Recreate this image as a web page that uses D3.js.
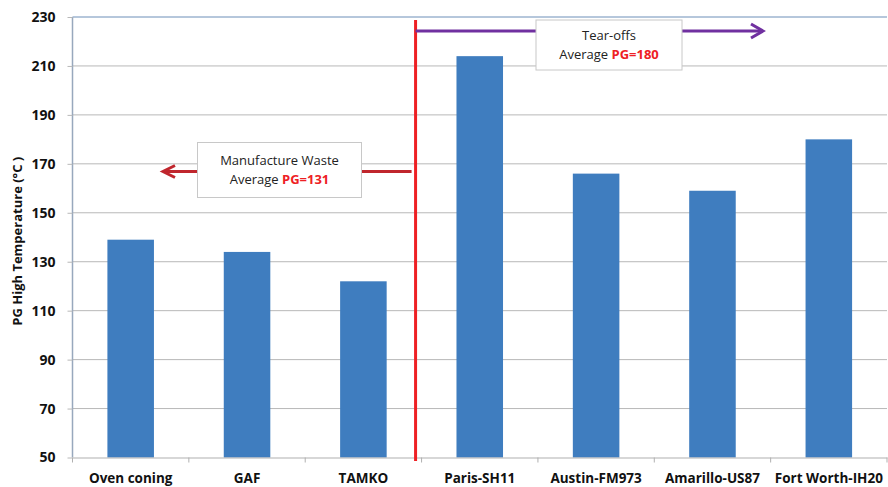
<!DOCTYPE html>
<html><head><meta charset="utf-8">
<script src="https://cdn.jsdelivr.net/npm/d3@7"></script>
<style>body{margin:0;background:#fff;}svg{display:block;font-family:"Open Sans","Liberation Sans",sans-serif;}</style>
</head><body><svg id="c" width="888" height="487"></svg>
<script>
const categories = ["Oven coning","GAF","TAMKO","Paris-SH11","Austin-FM973","Amarillo-US87","Fort Worth-IH20"];
const values = [139,134,122,214,166,159,180];
const yTicks = [50,70,90,110,130,150,170,190,210,230];
const yTitle = "PG High Temperature (\u00B0C )";
const mfgLabel = ["Manufacture Waste","Average ","PG=131"];
const tearLabel = ["Tear-offs","Average ","PG=180"];

const svg = d3.select("#c");
const L=72.5, R=887, T=17, B=457.5;
const x = d3.scaleBand().domain(categories).range([L,R]).paddingInner(0.6).paddingOuter(0.3);
const xb = d3.scaleBand().domain(categories).range([L,R]);
const y = d3.scaleLinear().domain([50,230]).range([B,T]);

// gridlines
svg.append("g").selectAll("line").data(yTicks.slice(1,-1)).join("line")
  .attr("x1",L).attr("x2",R).attr("y1",d=>y(d)).attr("y2",d=>y(d))
  .attr("stroke","#b8b8b8").attr("stroke-width",1);
svg.append("line").attr("x1",L).attr("x2",R).attr("y1",y(230)).attr("y2",y(230)).attr("stroke","#6d8fb8").attr("stroke-width",1);

// bars
svg.append("g").selectAll("rect").data(values).join("rect")
  .attr("x",(d,i)=>x(categories[i])).attr("width",x.bandwidth())
  .attr("y",d=>y(d)).attr("height",d=>B-y(d)).attr("fill","#3f7dbf");

// y axis
const ya = svg.append("g").attr("transform",`translate(${L},0)`)
  .call(d3.axisLeft(y).tickValues(yTicks).tickSize(5).tickPadding(12));
ya.select(".domain").attr("stroke","#98a8bd").attr("stroke-width",1.5).attr("d",`M0,${T}V${B}`);
ya.selectAll(".tick line").attr("stroke","#b8b8b8");
ya.selectAll("text").attr("font-size",14).attr("font-weight","bold").attr("fill","#111").attr("font-family","'Open Sans',sans-serif");

// x axis
const xa = svg.append("g").attr("transform",`translate(0,${B})`)
  .call(d3.axisBottom(xb).tickSize(0).tickPadding(16));
xa.select(".domain").attr("stroke","#b0b0b0").attr("stroke-width",1.2);
xa.selectAll("text").attr("font-size",13.5).attr("font-weight","bold").attr("fill","#111").attr("font-family","'Open Sans',sans-serif");
svg.append("g").selectAll("line").data(categories.concat(["_end"])).join("line")
  .attr("x1",(d,i)=> i<categories.length ? xb(d) : R).attr("x2",(d,i)=> i<categories.length ? xb(d) : R)
  .attr("y1",B).attr("y2",B+5).attr("stroke","#b0b0b0");

// y title
svg.append("text").attr("transform",`translate(22,${(T+B)/2 + 4}) rotate(-90)`)
  .attr("text-anchor","middle").attr("font-size",13).attr("font-weight","bold").attr("fill","#111").text(yTitle);

// divider red line
const divX = xb("Paris-SH11") - 6;
svg.append("line").attr("x1",divX).attr("x2",divX).attr("y1",20).attr("y2",461).attr("stroke","#ee2024").attr("stroke-width",3);

// red arrow (left)
const ay = 171.5;
svg.append("line").attr("x1",divX-4).attr("x2",163).attr("y1",ay).attr("y2",ay).attr("stroke","#c0262d").attr("stroke-width",3);
svg.append("path").attr("d",`M175,${ay-6} L163,${ay} L175,${ay+6}`).attr("fill","none").attr("stroke","#c0262d").attr("stroke-width",3).attr("stroke-linejoin","miter");

// purple arrow (right)
const py = 31;
svg.append("line").attr("x1",divX).attr("x2",763).attr("y1",py).attr("y2",py).attr("stroke","#7030a0").attr("stroke-width",3);
svg.append("path").attr("d",`M751,${py-7} L763,${py} L751,${py+7}`).attr("fill","none").attr("stroke","#7030a0").attr("stroke-width",3);

function box(x0,y0,w,h,lines){
  svg.append("rect").attr("x",x0).attr("y",y0).attr("width",w).attr("height",h)
    .attr("fill","#fff").attr("stroke","#c8c8c8").attr("stroke-width",1);
  const cx = x0+w/2;
  svg.append("text").attr("x",cx).attr("y",y0+h/2-5).attr("text-anchor","middle")
    .attr("font-size",13).attr("fill","#222").text(lines[0]);
  const t = svg.append("text").attr("x",cx).attr("y",y0+h/2+14).attr("text-anchor","middle").attr("font-size",13).attr("fill","#222");
  t.append("tspan").text(lines[1]);
  t.append("tspan").attr("fill","#ee2024").attr("font-weight","bold").text(lines[2]);
}
box(197.5,142.5,164,55,mfgLabel);
box(536,20,146,50,tearLabel);
</script></body></html>
